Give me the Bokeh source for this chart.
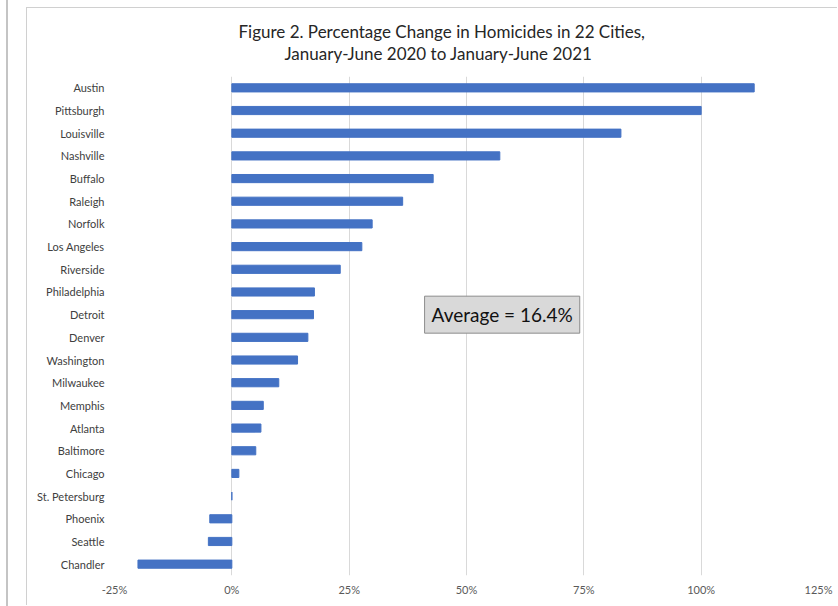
from bokeh.plotting import figure
from bokeh.models import (Range1d, FactorRange, FixedTicker, PrintfTickFormatter,
                          Label, Spacer, Title)
from bokeh.layouts import row, column
from bokeh.embed import file_html
from bokeh.resources import INLINE

# ---- data ----
cities = ["Austin", "Pittsburgh", "Louisville", "Nashville", "Buffalo", "Raleigh",
          "Norfolk", "Los Angeles", "Riverside", "Philadelphia", "Detroit", "Denver",
          "Washington", "Milwaukee", "Memphis", "Atlanta", "Baltimore", "Chicago",
          "St. Petersburg", "Phoenix", "Seattle", "Chandler"]
pct_change = [111.3, 100.0, 82.9, 57.1, 42.9, 36.4,
              29.9, 27.7, 23.1, 17.6, 17.4, 16.2,
              14.0, 10.0, 6.7, 6.2, 5.1, 1.5,
              0.0, -4.7, -5.0, -20.0]
x_ticks = [-25, 0, 25, 50, 75, 100, 125]
title_lines = ["Figure 2. Percentage Change in Homicides in 22 Cities,",
               "January-June 2020 to January-June 2021"]
average_text = "Average = 16.4%"

FONT = "Lato"

p = figure(width=811, height=598, output_backend="svg", toolbar_location=None,
           x_range=Range1d(-25, 125), y_range=FactorRange(*reversed(cities)),
           min_border_left=87, min_border_right=20, min_border_top=68,
           min_border_bottom=31)
p.outline_line_color = None
p.background_fill_color = "white"
p.border_fill_color = "white"

p.hbar(y=cities, right=pct_change, left=0, height=0.36, color="#4472C4")

# x axis
p.xaxis.ticker = FixedTicker(ticks=x_ticks)
p.xaxis.formatter = PrintfTickFormatter(format="%d%%")
p.xaxis.axis_line_color = None
p.xaxis.major_tick_line_color = None
p.xaxis.minor_tick_line_color = None
p.xaxis.major_label_standoff = 1
p.xaxis.major_label_text_font = FONT
p.xaxis.major_label_text_font_size = "11px"
p.xaxis.major_label_text_color = "#595959"

# y axis
p.yaxis.axis_line_color = None
p.yaxis.major_tick_line_color = None
p.yaxis.minor_tick_line_color = None
p.yaxis.major_label_standoff = 4
p.yaxis.major_label_text_font = FONT
p.yaxis.major_label_text_font_size = "11px"
p.yaxis.major_label_text_color = "#404040"

p.xgrid.grid_line_color = "#d9d9d9"
p.xgrid.grid_line_width = 1
p.ygrid.grid_line_color = None

# title: two lines (second line added first so it sits nearer the plot)
t2 = Title(text=title_lines[1], align="left", offset=170, standoff=22,
           vertical_align="top",
           text_font=FONT, text_font_size="17px", text_font_style="normal",
           text_color="#262626")
t1 = Title(text=title_lines[0], align="left", offset=124, standoff=-20,
           vertical_align="bottom",
           text_font=FONT, text_font_size="17px", text_font_style="normal",
           text_color="#262626")
p.add_layout(t2, "above")
p.add_layout(t1, "above")

# average box
p.add_layout(Label(x=57.6, y=11.5, text=average_text, text_align="center",
                   text_baseline="middle", text_font=FONT,
                   text_font_size="19px", text_color="#111111",
                   background_fill_color="#d9d9d9", border_line_color="#8c8c8c",
                   border_line_width=1, padding=7))

p.styles = {"border-left": "1px solid #d0d0d0", "border-top": "1px solid #d0d0d0"}

left_line = Spacer(width=8, height=606, styles={"border-right": "2px solid #c4c4c4"})
gap = Spacer(width=18, height=606)
chart = column(Spacer(width=811, height=7), p)
layout = row(left_line, gap, chart)

open("out.html", "w").write(file_html(layout, INLINE))
